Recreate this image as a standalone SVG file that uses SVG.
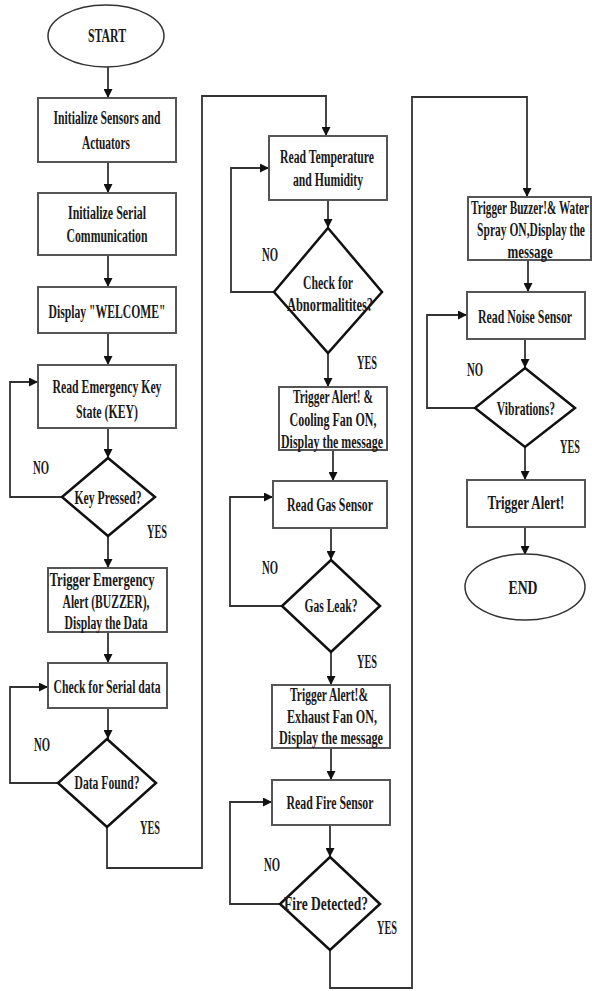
<svg xmlns="http://www.w3.org/2000/svg" width="592" height="991" viewBox="0 0 592 991">
<style>
.bg{fill:#ffffff}
.box{fill:#ffffff;stroke:#555555;stroke-width:2}
.dia{fill:#ffffff;stroke:#111111;stroke-width:2.5}
.term{fill:#ffffff;stroke:#333333;stroke-width:1.5}
.t{font-family:"Liberation Serif","Times New Roman",serif;font-weight:bold;font-size:18px;fill:#1a1a1a;text-anchor:middle}
.conn path{fill:none;stroke:#333333;stroke-width:1.8}
</style>
<defs>
<marker id="arr" viewBox="0 0 10 10" refX="10" refY="5" markerWidth="9" markerHeight="9" markerUnits="userSpaceOnUse" orient="auto">
<path d="M0 0 L10 5 L0 10 Z" fill="#111111"/>
</marker>
</defs>
<rect class="bg" x="0" y="0" width="592" height="991"/>

<g id="connectors" class="conn">
<path d="M108 67 V98" marker-end="url(#arr)"/>
<path d="M108 162 V193" marker-end="url(#arr)"/>
<path d="M108 255 V287" marker-end="url(#arr)"/>
<path d="M108 333 V365" marker-end="url(#arr)"/>
<path d="M108 428 V458" marker-end="url(#arr)"/>
<path d="M62 497 H10 V382 H38" marker-end="url(#arr)"/>
<path d="M108 536 V568" marker-end="url(#arr)"/>
<path d="M108 632 V663" marker-end="url(#arr)"/>
<path d="M108 708 V739" marker-end="url(#arr)"/>
<path d="M58 783 H10 V687 H48" marker-end="url(#arr)"/>
<path d="M107 827 V868 H202 V96 H326 V136" marker-end="url(#arr)"/>
<path d="M328 200 V228" marker-end="url(#arr)"/>
<path d="M274 292 H231 V168 H269" marker-end="url(#arr)"/>
<path d="M328 353 V387" marker-end="url(#arr)"/>
<path d="M333 450 V481" marker-end="url(#arr)"/>
<path d="M331 528 V560" marker-end="url(#arr)"/>
<path d="M282 606 H230 V497 H273" marker-end="url(#arr)"/>
<path d="M331 652 V685" marker-end="url(#arr)"/>
<path d="M331 748 V780" marker-end="url(#arr)"/>
<path d="M330 825 V857" marker-end="url(#arr)"/>
<path d="M280 904 H230 V802 H272" marker-end="url(#arr)"/>
<path d="M330 950 V988 H412 V97 H527 V197" marker-end="url(#arr)"/>
<path d="M528 260 V292" marker-end="url(#arr)"/>
<path d="M525 339 V368" marker-end="url(#arr)"/>
<path d="M475 408 H427 V315 H467" marker-end="url(#arr)"/>
<path d="M525 447 V480" marker-end="url(#arr)"/>
<path d="M525 527 V555" marker-end="url(#arr)"/>
</g>

<g id="start">
<ellipse class="term" cx="106" cy="36" rx="58" ry="31"/>
<text class="t" x="107" y="42" textLength="38" lengthAdjust="spacingAndGlyphs">START</text>
</g>
<g id="init-sensors">
<rect class="box" x="38" y="98" width="138" height="64"/>
<text class="t" x="107" y="124" textLength="107" lengthAdjust="spacingAndGlyphs">Initialize Sensors and</text>
<text class="t" x="106" y="149" textLength="48" lengthAdjust="spacingAndGlyphs">Actuators</text>
</g>
<g id="init-serial">
<rect class="box" x="38" y="193" width="138" height="62"/>
<text class="t" x="107" y="219" textLength="78" lengthAdjust="spacingAndGlyphs">Initialize Serial</text>
<text class="t" x="107" y="242" textLength="81" lengthAdjust="spacingAndGlyphs">Communication</text>
</g>
<g id="welcome">
<rect class="box" x="38" y="287" width="138" height="46"/>
<text class="t" x="107" y="318" textLength="117" lengthAdjust="spacingAndGlyphs">Display "WELCOME"</text>
</g>
<g id="read-key">
<rect class="box" x="38" y="365" width="138" height="63"/>
<text class="t" x="107" y="393" textLength="109" lengthAdjust="spacingAndGlyphs">Read Emergency Key</text>
<text class="t" x="107" y="418" textLength="62" lengthAdjust="spacingAndGlyphs">State (KEY)</text>
</g>
<g id="key-pressed">
<polygon class="dia" points="108,458 155,497 108,536 62,497"/>
<text class="t" x="108" y="504" textLength="67" lengthAdjust="spacingAndGlyphs">Key Pressed?</text>
<text class="t" x="41" y="474" textLength="16" lengthAdjust="spacingAndGlyphs">NO</text>
<text class="t" x="157" y="538" textLength="20" lengthAdjust="spacingAndGlyphs">YES</text>
</g>
<g id="emergency-alert">
<rect class="box" x="48" y="568" width="119" height="64"/>
<text class="t" x="102" y="586" textLength="105" lengthAdjust="spacingAndGlyphs">Trigger Emergency</text>
<text class="t" x="106" y="608" textLength="87" lengthAdjust="spacingAndGlyphs">Alert (BUZZER),</text>
<text class="t" x="106" y="629" textLength="83" lengthAdjust="spacingAndGlyphs">Display the Data</text>
</g>
<g id="check-serial">
<rect class="box" x="48" y="663" width="119" height="45"/>
<text class="t" x="107" y="693" textLength="107" lengthAdjust="spacingAndGlyphs">Check for Serial data</text>
</g>
<g id="data-found">
<polygon class="dia" points="107,739 156,783 107,827 58,783"/>
<text class="t" x="107" y="789" textLength="65" lengthAdjust="spacingAndGlyphs">Data Found?</text>
<text class="t" x="42" y="751" textLength="16" lengthAdjust="spacingAndGlyphs">NO</text>
<text class="t" x="150" y="834" textLength="20" lengthAdjust="spacingAndGlyphs">YES</text>
</g>

<g id="read-temp">
<rect class="box" x="269" y="136" width="118" height="64"/>
<text class="t" x="327" y="163" textLength="94" lengthAdjust="spacingAndGlyphs">Read Temperature</text>
<text class="t" x="328" y="186" textLength="70" lengthAdjust="spacingAndGlyphs">and Humidity</text>
</g>
<g id="abnormal">
<polygon class="dia" points="328,228 382,292 328,353 274,292"/>
<text class="t" x="328" y="289" textLength="50" lengthAdjust="spacingAndGlyphs">Check for</text>
<text class="t" x="330" y="311" textLength="86" lengthAdjust="spacingAndGlyphs">Abnormalitites?</text>
<text class="t" x="270" y="261" textLength="16" lengthAdjust="spacingAndGlyphs">NO</text>
<text class="t" x="367" y="369" textLength="20" lengthAdjust="spacingAndGlyphs">YES</text>
</g>
<g id="cooling-fan">
<rect class="box" x="279" y="387" width="108" height="63"/>
<text class="t" x="333" y="403" textLength="80" lengthAdjust="spacingAndGlyphs">Trigger Alert! &amp;</text>
<text class="t" x="333" y="426" textLength="87" lengthAdjust="spacingAndGlyphs">Cooling Fan ON,</text>
<text class="t" x="332" y="448" textLength="102" lengthAdjust="spacingAndGlyphs">Display the message</text>
</g>
<g id="read-gas">
<rect class="box" x="273" y="481" width="114" height="47"/>
<text class="t" x="330" y="511" textLength="86" lengthAdjust="spacingAndGlyphs">Read Gas Sensor</text>
</g>
<g id="gas-leak">
<polygon class="dia" points="331,560 380,606 331,652 282,606"/>
<text class="t" x="331" y="612" textLength="53" lengthAdjust="spacingAndGlyphs">Gas Leak?</text>
<text class="t" x="270" y="574" textLength="16" lengthAdjust="spacingAndGlyphs">NO</text>
<text class="t" x="367" y="668" textLength="20" lengthAdjust="spacingAndGlyphs">YES</text>
</g>
<g id="exhaust-fan">
<rect class="box" x="272" y="685" width="118" height="63"/>
<text class="t" x="329" y="701" textLength="78" lengthAdjust="spacingAndGlyphs">Trigger Alert!&amp;</text>
<text class="t" x="332" y="723" textLength="90" lengthAdjust="spacingAndGlyphs">Exhaust Fan ON,</text>
<text class="t" x="331" y="744" textLength="104" lengthAdjust="spacingAndGlyphs">Display the message</text>
</g>
<g id="read-fire">
<rect class="box" x="272" y="780" width="118" height="45"/>
<text class="t" x="330" y="809" textLength="87" lengthAdjust="spacingAndGlyphs">Read Fire Sensor</text>
</g>
<g id="fire-detected">
<polygon class="dia" points="330,857 380,904 330,950 280,904"/>
<text class="t" x="326" y="910" textLength="84" lengthAdjust="spacingAndGlyphs">Fire Detected?</text>
<text class="t" x="272" y="871" textLength="16" lengthAdjust="spacingAndGlyphs">NO</text>
<text class="t" x="387" y="934" textLength="20" lengthAdjust="spacingAndGlyphs">YES</text>
</g>

<g id="water-spray">
<rect class="box" x="468" y="197" width="123" height="63"/>
<text class="t" transform="translate(530,214) scale(0.62,1)" textLength="190" lengthAdjust="spacingAndGlyphs">Trigger Buzzer!&amp; Water</text>
<text class="t" transform="translate(531,236) scale(0.62,1)" textLength="174" lengthAdjust="spacingAndGlyphs">Spray ON,Display the</text>
<text class="t" transform="translate(530,258) scale(0.62,1)" textLength="73" lengthAdjust="spacingAndGlyphs">message</text>
</g>
<g id="read-noise">
<rect class="box" x="467" y="292" width="118" height="47"/>
<text class="t" transform="translate(525,323) scale(0.62,1)" textLength="152" lengthAdjust="spacingAndGlyphs">Read Noise Sensor</text>
</g>
<g id="vibrations">
<polygon class="dia" points="525,368 575,408 525,447 475,408"/>
<text class="t" transform="translate(526,415) scale(0.62,1)" textLength="94" lengthAdjust="spacingAndGlyphs">Vibrations?</text>
<text class="t" x="475" y="376" textLength="16" lengthAdjust="spacingAndGlyphs">NO</text>
<text class="t" transform="translate(570,453) scale(0.6,1)" textLength="33" lengthAdjust="spacingAndGlyphs">YES</text>
</g>
<g id="trigger-alert">
<rect class="box" x="467" y="480" width="118" height="47"/>
<text class="t" transform="translate(526,509) scale(0.62,1)" textLength="124" lengthAdjust="spacingAndGlyphs">Trigger Alert!</text>
</g>
<g id="end">
<ellipse class="term" cx="525" cy="587" rx="60" ry="33"/>
<text class="t" x="523" y="594" textLength="29" lengthAdjust="spacingAndGlyphs">END</text>
</g>
</svg>
